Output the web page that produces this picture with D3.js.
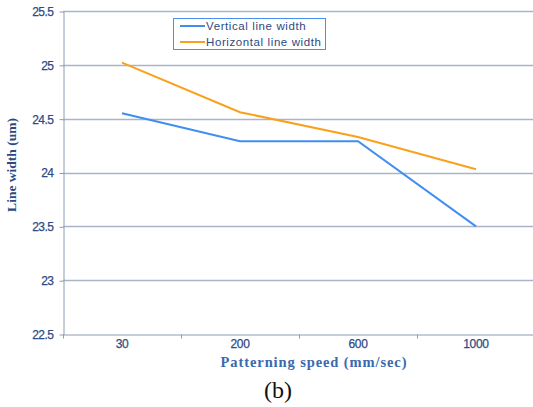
<!DOCTYPE html>
<html>
  <head>
    <script src="https://d3js.org/d3.v7.min.js"></script>
    <style>
      body { margin: 0; background: #fff; }
    </style>
  </head>
  <body>
    <div id="chart"></div>
    <script>
var speeds = ["30", "200", "600", "1000"];
var verticalWidth = [24.55, 24.29, 24.29, 23.5];
var horizontalWidth = [25.02, 24.56, 24.33, 24.03];
var yTicks = [22.5, 23, 23.5, 24, 24.5, 25, 25.5];
var seriesNames = ["Vertical line width", "Horizontal line width"];

(function(){
var width = 533, height = 407;
var plotLeft = 63, plotTop = 11, plotRight = 535, plotBottom = 334;

var svg = d3.select("#chart").append("svg")
  .attr("width", width).attr("height", height)
  .style("font-family", "Liberation Sans, Arial, sans-serif");

var x = d3.scaleBand().domain(speeds).range([plotLeft, plotRight]);
var y = d3.scaleLinear().domain([22.5, 25.5]).range([plotBottom, plotTop]);

var gridColor = "#8e9bb6";
var labelColor = "#2e4a85";

// gridlines
svg.append("g").selectAll("line")
  .data(yTicks.slice(1))
  .enter().append("line")
  .attr("x1", plotLeft).attr("x2", plotRight)
  .attr("y1", function(d){ return Math.round(y(d)) + 0.5; })
  .attr("y2", function(d){ return Math.round(y(d)) + 0.5; })
  .attr("stroke", "#a9b4c8").attr("stroke-width", 1.3);

// y axis
var yAxis = svg.append("g")
  .attr("transform", "translate(" + (plotLeft + 0.5) + ",0.5)")
  .call(d3.axisLeft(y).tickValues(yTicks).tickSize(4).tickSizeOuter(0)
    .tickFormat(function(d){ return d3.format("")(d); }));
yAxis.selectAll("line, path").attr("stroke", gridColor);
yAxis.selectAll("text").attr("fill", labelColor).attr("font-size", 12)
  .attr("x", -10).style("letter-spacing", "-0.5px")
  .attr("stroke", labelColor).attr("stroke-width", 0.25);

// x axis
var xAxis = svg.append("g")
  .attr("transform", "translate(0," + (plotBottom + 0.5) + ")")
  .call(d3.axisBottom(x).tickSize(0).tickSizeOuter(0));
xAxis.select("path").attr("stroke", gridColor);
xAxis.selectAll("text").attr("fill", labelColor).attr("font-size", 12)
  .attr("dy", "0.85em").style("letter-spacing", "-0.3px")
  .attr("stroke", labelColor).attr("stroke-width", 0.25);
// small tick marks at category boundaries
xAxis.append("g").selectAll("line")
  .data(speeds)
  .enter().append("line")
  .attr("x1", function(d){ return Math.round(x(d)) + 0.5; })
  .attr("x2", function(d){ return Math.round(x(d)) + 0.5; })
  .attr("y1", 0).attr("y2", 4)
  .attr("stroke", gridColor);

// lines
var line = d3.line()
  .x(function(d, i){ return x(speeds[i]) + x.bandwidth() / 2; })
  .y(function(d){ return y(d); });

svg.append("path").datum(verticalWidth)
  .attr("d", line).attr("fill", "none")
  .attr("stroke", "#3f8ef0").attr("stroke-width", 2);
svg.append("path").datum(horizontalWidth)
  .attr("d", line).attr("fill", "none")
  .attr("stroke", "#f9a11b").attr("stroke-width", 2);

// legend
var lg = svg.append("g");
lg.append("rect").attr("x", 173.5).attr("y", 18.5).attr("width", 152).attr("height", 31)
  .attr("fill", "#fff").attr("stroke", "#4a8ef0").attr("stroke-width", 1);
var colors = ["#3f8ef0", "#f9a11b"];
seriesNames.forEach(function(name, i){
  var yy = 26 + i * 16;
  lg.append("line").attr("x1", 180).attr("x2", 205).attr("y1", yy).attr("y2", yy)
    .attr("stroke", colors[i]).attr("stroke-width", 2);
  lg.append("text").attr("x", 206).attr("y", yy + 4)
    .attr("font-size", 11.5).attr("fill", "#2f4a80")
    .style("letter-spacing", "0.6px").text(name);
});

// axis titles
svg.append("text")
  .attr("transform", "translate(16,165) rotate(-90)")
  .attr("text-anchor", "middle")
  .attr("font-family", "Liberation Serif, Times New Roman, serif")
  .attr("font-weight", "bold").attr("font-size", 13.5)
  .attr("fill", "#2b4a80")
  .text("Line width (um)");

svg.append("text")
  .attr("x", 314).attr("y", 367)
  .attr("text-anchor", "middle")
  .attr("font-family", "Liberation Serif, Times New Roman, serif")
  .attr("font-weight", "bold").attr("font-size", 14.5)
  .style("letter-spacing", "0.9px")
  .attr("fill", "#3a69ad")
  .text("Patterning speed (mm/sec)");

svg.append("text")
  .attr("x", 278).attr("y", 398)
  .attr("text-anchor", "middle")
  .attr("font-family", "Liberation Serif, Times New Roman, serif")
  .attr("font-size", 24)
  .attr("fill", "#111")
  .text("(b)");
})();
    </script>
  </body>
</html>
